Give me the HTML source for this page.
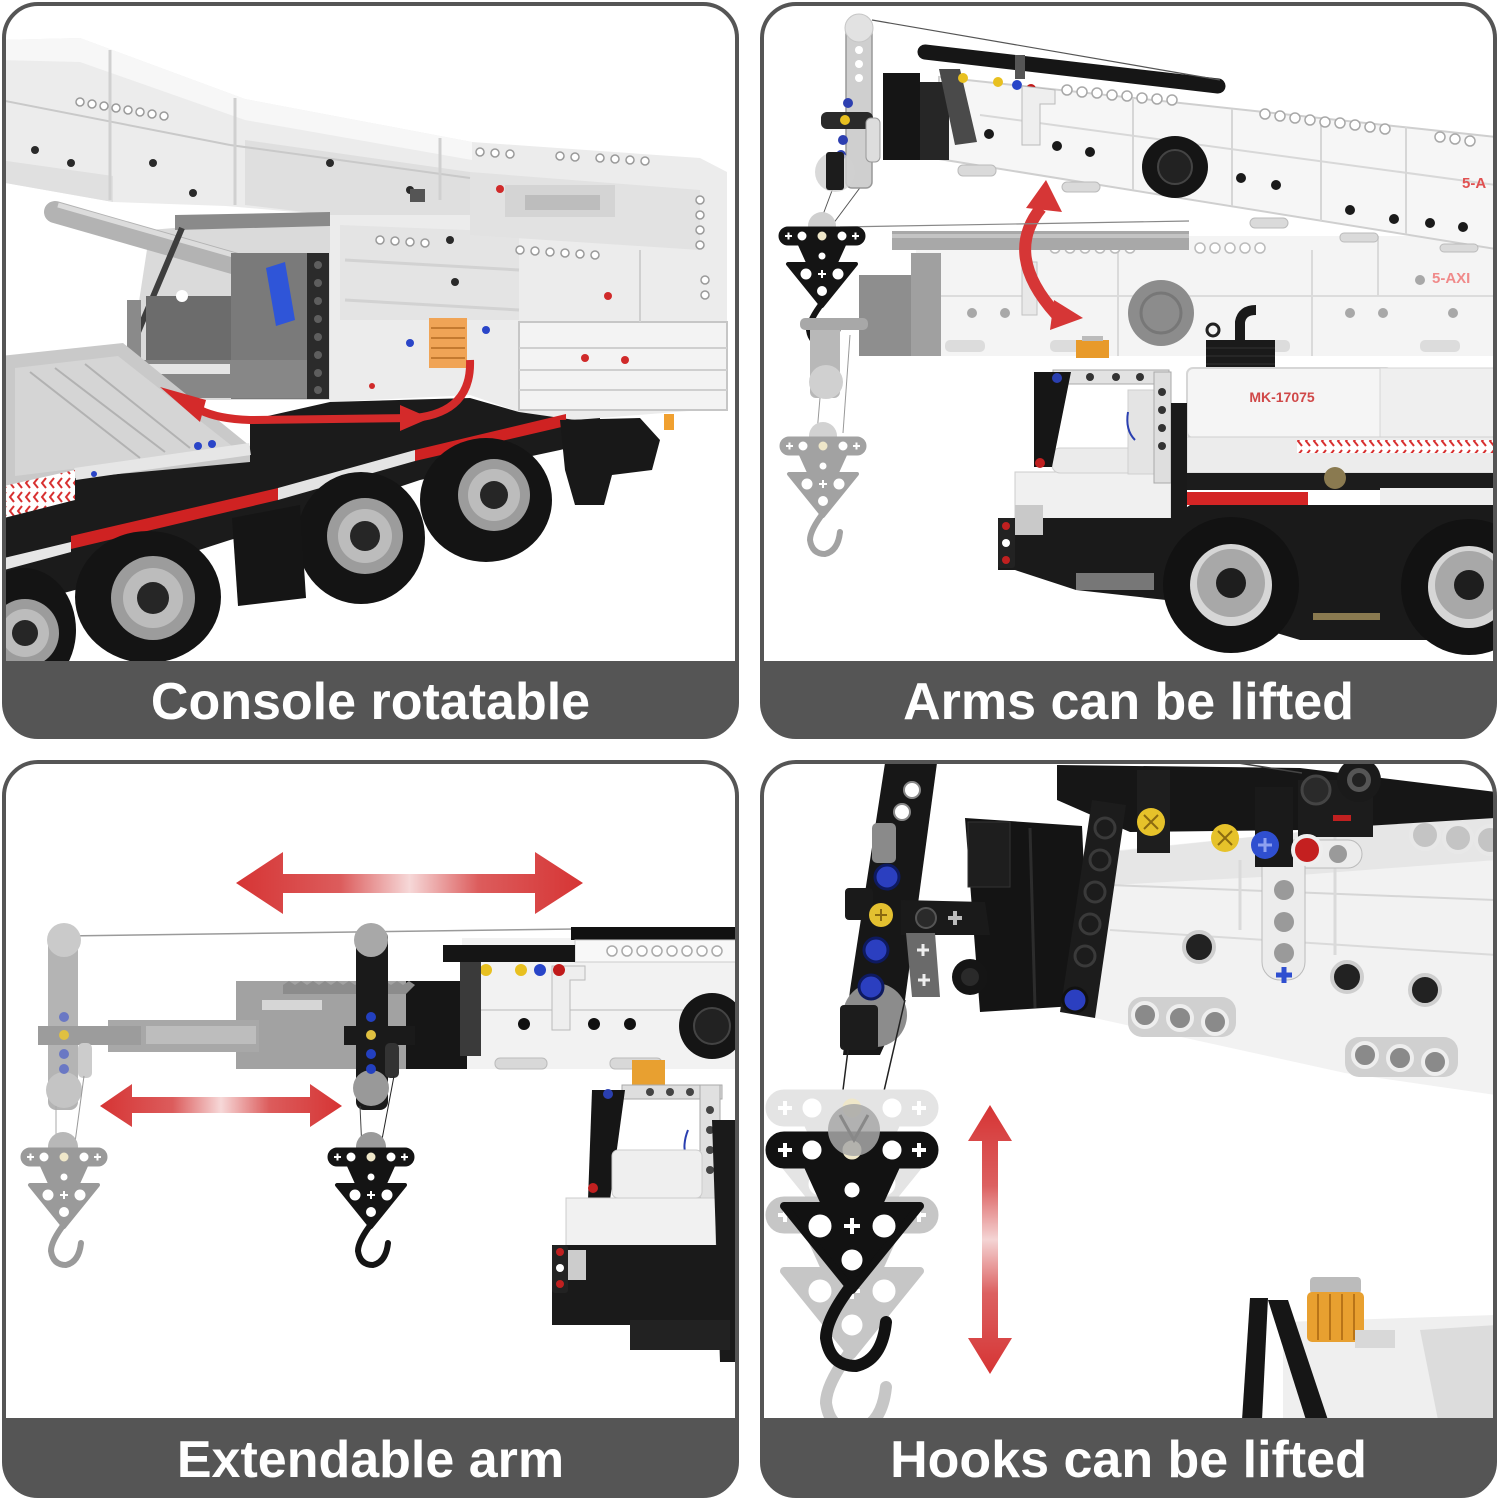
<!DOCTYPE html>
<html><head><meta charset="utf-8">
<style>html,body{margin:0;padding:0;background:#fff;}svg{display:block;}</style>
</head><body>
<svg width="1500" height="1500" viewBox="0 0 1500 1500" xmlns="http://www.w3.org/2000/svg">
<defs>
<clipPath id="c1"><rect x="4" y="4" width="733" height="733" rx="34"/></clipPath>
<clipPath id="c2"><rect x="762" y="4" width="733" height="733" rx="34"/></clipPath>
<clipPath id="c3"><rect x="4" y="762" width="733" height="734" rx="34"/></clipPath>
<clipPath id="c4"><rect x="762" y="762" width="733" height="734" rx="34"/></clipPath>
<pattern id="chev" width="8" height="14" patternUnits="userSpaceOnUse"><rect width="8" height="14" fill="#fff"/><path d="M6 2 L2 7 L6 12" stroke="#d83030" stroke-width="2" fill="none"/></pattern>
<linearGradient id="gH1" gradientUnits="userSpaceOnUse" x1="236" y1="0" x2="583" y2="0"><stop offset="0" stop-color="#d63434"/><stop offset="0.3" stop-color="#dc5c5c"/><stop offset="0.5" stop-color="#f6d8d8"/><stop offset="0.7" stop-color="#dc5c5c"/><stop offset="1" stop-color="#d63434"/></linearGradient>
<linearGradient id="gH2" gradientUnits="userSpaceOnUse" x1="100" y1="0" x2="342" y2="0"><stop offset="0" stop-color="#d63434"/><stop offset="0.3" stop-color="#dc5c5c"/><stop offset="0.5" stop-color="#f6d8d8"/><stop offset="0.7" stop-color="#dc5c5c"/><stop offset="1" stop-color="#d63434"/></linearGradient>
<linearGradient id="gV" gradientUnits="userSpaceOnUse" x1="0" y1="1105" x2="0" y2="1374"><stop offset="0" stop-color="#d63434"/><stop offset="0.3" stop-color="#dc6060"/><stop offset="0.5" stop-color="#f4d4d4"/><stop offset="0.7" stop-color="#dc6060"/><stop offset="1" stop-color="#d63434"/></linearGradient>
<g id="hk">
 <rect x="-43" y="-9" width="86" height="18" rx="9"/>
 <polygon points="-24,8 24,8 14,30 -14,30"/>
 <polygon points="-34,28 34,28 0,70" stroke-linejoin="round" stroke-width="4"/>
 <path d="M1 66 Q-13 84 -13 94 Q-11 108 2 108 Q15 105 17 86" fill="none" stroke-width="6" stroke-linecap="round"/>
 <circle cx="-20" cy="0" r="5" fill="#fff"/>
 <circle cx="20" cy="0" r="5" fill="#fff"/>
 <circle cx="0" cy="0" r="5" fill="#efe7c9"/>
 <path d="M-37 0h7M-33.5 -3.5v7M30 0h7M33.5 -3.5v7" stroke="#fff" stroke-width="2" fill="none"/>
 <circle cx="-16" cy="38" r="6" fill="#fff"/>
 <circle cx="16" cy="38" r="6" fill="#fff"/>
 <circle cx="0" cy="55" r="5.5" fill="#fff"/>
 <path d="M-4 38h8M0 34v8" stroke="#fff" stroke-width="2" fill="none"/>
 <circle cx="0" cy="20" r="4" fill="#fff"/>
</g>
</defs>
<rect width="1500" height="1500" fill="#fff"/>

<!-- ================= PANEL 1 ================= -->
<g clip-path="url(#c1)">
<rect x="0" y="0" width="740" height="740" fill="#fff"/>
<polygon points="0,40 80,38 245,99 472,142 700,158 727,172 727,408 575,420 519,412 470,395 330,402 330,215 226,206 113,202 0,182" fill="#ececec"/>
<polygon points="0,40 80,38 245,99 472,142 472,160 245,120 80,62 0,60" fill="#f7f7f7"/>
<polygon points="245,140 470,172 470,215 330,215 245,205" fill="#dfdfdf"/>
<polygon points="0,160 113,176 113,202 0,182" fill="#e0e0e0"/>
<polygon points="340,225 519,232 519,320 340,320" fill="#e4e4e4"/>
<polygon points="470,172 700,190 700,250 470,235" fill="#e2e2e2"/>
<line x1="0" y1="100" x2="230" y2="145" stroke="#c9c9c9" stroke-width="2"/>
<line x1="230" y1="145" x2="470" y2="178" stroke="#c9c9c9" stroke-width="2"/>
<line x1="110" y1="50" x2="110" y2="200" stroke="#d0d0d0" stroke-width="3"/>
<line x1="235" y1="98" x2="235" y2="205" stroke="#d0d0d0" stroke-width="3"/>
<line x1="440" y1="138" x2="440" y2="200" stroke="#d0d0d0" stroke-width="3"/>
<g fill="#fff" stroke="#9a9a9a" stroke-width="1.5">
<circle cx="80" cy="102" r="4"/><circle cx="92" cy="104" r="4"/><circle cx="104" cy="106" r="4"/><circle cx="116" cy="108" r="4"/><circle cx="128" cy="110" r="4"/><circle cx="140" cy="112" r="4"/><circle cx="152" cy="114" r="4"/><circle cx="164" cy="116" r="4"/>
<circle cx="480" cy="152" r="4"/><circle cx="495" cy="153" r="4"/><circle cx="510" cy="154" r="4"/><circle cx="560" cy="156" r="4"/><circle cx="575" cy="157" r="4"/><circle cx="600" cy="158" r="4"/><circle cx="615" cy="159" r="4"/><circle cx="630" cy="160" r="4"/><circle cx="645" cy="161" r="4"/>
<circle cx="520" cy="250" r="4"/><circle cx="535" cy="251" r="4"/><circle cx="550" cy="252" r="4"/><circle cx="565" cy="253" r="4"/><circle cx="580" cy="254" r="4"/><circle cx="595" cy="255" r="4"/>
<circle cx="380" cy="240" r="4"/><circle cx="395" cy="241" r="4"/><circle cx="410" cy="242" r="4"/><circle cx="425" cy="243" r="4"/>
<circle cx="700" cy="200" r="4"/><circle cx="700" cy="215" r="4"/><circle cx="700" cy="230" r="4"/><circle cx="700" cy="245" r="4"/><circle cx="705" cy="280" r="4"/><circle cx="705" cy="295" r="4"/>
</g>
<g fill="#2a2a2a">
<circle cx="35" cy="150" r="4"/><circle cx="71" cy="163" r="4"/><circle cx="153" cy="163" r="4"/><circle cx="193" cy="193" r="4"/><circle cx="330" cy="163" r="4"/><circle cx="410" cy="190" r="4"/><circle cx="455" cy="282" r="4"/><circle cx="590" cy="196" r="4"/><circle cx="450" cy="240" r="4"/>
</g>
<rect x="410" y="189" width="15" height="13" fill="#555"/>
<rect x="505" y="185" width="110" height="32" fill="#d4d4d4"/>
<rect x="525" y="195" width="75" height="15" fill="#bdbdbd"/>
<rect x="519" y="322" width="208" height="88" fill="#f3f3f3" stroke="#c6c6c6" stroke-width="2"/>
<line x1="519" y1="348" x2="727" y2="348" stroke="#cfcfcf" stroke-width="2"/>
<line x1="519" y1="370" x2="727" y2="370" stroke="#cfcfcf" stroke-width="2"/>
<line x1="519" y1="390" x2="727" y2="390" stroke="#cfcfcf" stroke-width="2"/>
<line x1="640" y1="250" x2="640" y2="322" stroke="#cfcfcf" stroke-width="2"/>
<line x1="345" y1="260" x2="519" y2="270" stroke="#d2d2d2" stroke-width="3"/>
<line x1="345" y1="300" x2="519" y2="310" stroke="#d2d2d2" stroke-width="3"/>
<g fill="#d02a2a"><circle cx="608" cy="296" r="4"/><circle cx="585" cy="358" r="4"/><circle cx="625" cy="360" r="4"/><circle cx="500" cy="189" r="4"/><circle cx="372" cy="386" r="3"/></g>
<g fill="#2a45c8"><circle cx="410" cy="343" r="4"/><circle cx="486" cy="330" r="4"/></g>
<polygon points="150,230 330,215 330,400 140,400 130,360" fill="#dadada"/>
<line x1="55" y1="212" x2="240" y2="265" stroke="#b3b3b3" stroke-width="22" stroke-linecap="round"/>
<line x1="58" y1="205" x2="240" y2="257" stroke="#dcdcdc" stroke-width="5"/>
<polygon points="175,215 330,212 330,226 175,230" fill="#8a8a8a"/>
<line x1="182" y1="228" x2="128" y2="356" stroke="#3e3e3e" stroke-width="6"/>
<rect x="127" y="300" width="14" height="60" fill="#8a8a8a"/>
<rect x="231" y="253" width="76" height="146" fill="#7a7a7a"/>
<rect x="307" y="253" width="22" height="146" fill="#2b2b2b"/>
<g fill="#5e5e5e"><circle cx="318" cy="265" r="4"/><circle cx="318" cy="283" r="4"/><circle cx="318" cy="301" r="4"/><circle cx="318" cy="319" r="4"/><circle cx="318" cy="337" r="4"/><circle cx="318" cy="355" r="4"/><circle cx="318" cy="373" r="4"/><circle cx="318" cy="390" r="4"/></g>
<rect x="146" y="296" width="85" height="73" fill="#6c6c6c"/>
<rect x="132" y="360" width="175" height="38" fill="#878787"/>
<rect x="140" y="364" width="90" height="10" fill="#e4e4e4"/>
<polygon points="266,268 285,262 295,320 276,326" fill="#2f55d8"/>
<circle cx="182" cy="296" r="6" fill="#fff"/>
<rect x="429" y="318" width="38" height="50" fill="#f0a456"/>
<g stroke="#c47a30" stroke-width="2"><line x1="431" y1="328" x2="465" y2="328"/><line x1="431" y1="338" x2="465" y2="338"/><line x1="431" y1="348" x2="465" y2="348"/><line x1="431" y1="358" x2="465" y2="358"/></g>
<polygon points="0,495 75,478 250,449 250,420 330,402 470,398 519,412 575,420 600,418 600,440 560,450 420,480 300,520 230,540 75,590 0,610" fill="#1b1b1b"/>
<polygon points="0,356 123,343 250,446 250,462 75,478 0,495" fill="#c9c9c9"/>
<polygon points="15,368 118,356 232,446 80,468 15,476" fill="#d5d5d5"/>
<g stroke="#b2b2b2" stroke-width="2"><line x1="30" y1="372" x2="140" y2="458"/><line x1="55" y1="368" x2="165" y2="452"/><line x1="85" y1="364" x2="190" y2="448"/></g>
<line x1="75" y1="474" x2="250" y2="449" stroke="#e6e6e6" stroke-width="12"/>
<g fill="#2a45c8"><circle cx="198" cy="446" r="4"/><circle cx="212" cy="444" r="4"/><circle cx="94" cy="474" r="3"/></g>
<polygon points="4,486 75,470 75,500 4,518" fill="url(#chev)"/>
<polygon points="71,536 278,488 278,500 71,549" fill="#cf2222"/>
<polygon points="278,488 415,450 415,461 278,500" fill="#e4e4e4"/>
<polygon points="415,450 566,414 566,426 415,461" fill="#cf2222"/>
<polygon points="4,558 71,542 71,552 4,570" fill="#e6e6e6"/>
<ellipse cx="486" cy="500" rx="66" ry="62" fill="#141414"/>
<circle cx="494" cy="495" r="36" fill="#9c9c9c"/><circle cx="494" cy="495" r="26" fill="#bcbcbc"/><circle cx="494" cy="495" r="14" fill="#262626"/>
<ellipse cx="361" cy="538" rx="64" ry="66" fill="#141414"/>
<circle cx="365" cy="536" r="38" fill="#9c9c9c"/><circle cx="365" cy="536" r="27" fill="#bcbcbc"/><circle cx="365" cy="536" r="15" fill="#262626"/>
<polygon points="232,518 300,505 306,598 238,606" fill="#151515"/>
<polygon points="560,420 640,418 660,440 652,470 612,475 604,505 575,505 565,470" fill="#181818"/>
<rect x="664" y="414" width="10" height="16" fill="#f0a030"/>
<ellipse cx="148" cy="597" rx="73" ry="66" fill="#141414"/>
<circle cx="153" cy="598" r="42" fill="#9c9c9c"/><circle cx="153" cy="598" r="30" fill="#bcbcbc"/><circle cx="153" cy="598" r="16" fill="#262626"/>
<ellipse cx="24" cy="630" rx="52" ry="62" fill="#141414"/>
<circle cx="25" cy="633" r="34" fill="#9c9c9c"/><circle cx="25" cy="633" r="24" fill="#bcbcbc"/><circle cx="25" cy="633" r="13" fill="#262626"/>
<path d="M470 360 Q472 412 415 418 L250 420 Q218 419 200 410" fill="none" stroke="#d42a2a" stroke-width="8"/>
<polygon points="400,405 430,418 400,431" fill="#d42a2a"/>
<polygon points="160,387 206,400 200,422" fill="#d42a2a"/>
<rect x="0" y="661" width="740" height="80" fill="#555"/>
</g>
<rect x="4" y="4" width="733" height="733" rx="34" fill="none" stroke="#555" stroke-width="4"/>
<text x="370.5" y="719" text-anchor="middle" font-family="Liberation Sans, Arial, sans-serif" font-weight="bold" font-size="52" fill="#fff">Console rotatable</text>

<!-- ================= PANEL 2 ================= -->
<g clip-path="url(#c2)">
<rect x="762" y="0" width="740" height="740" fill="#fff"/>
<polygon points="916,236 1496,236 1496,356 916,356" fill="#f4f4f4"/>
<line x1="916" y1="296" x2="1496" y2="296" stroke="#dcdcdc" stroke-width="2"/>
<g stroke="#dadada" stroke-width="2"><line x1="1118" y1="250" x2="1118" y2="356"/><line x1="1312" y1="250" x2="1312" y2="356"/><line x1="1378" y1="236" x2="1378" y2="296"/></g>
<g fill="#fff" stroke="#bbb" stroke-width="1.5"><circle cx="1055" cy="248" r="5"/><circle cx="1070" cy="248" r="5"/><circle cx="1085" cy="248" r="5"/><circle cx="1100" cy="248" r="5"/><circle cx="1115" cy="248" r="5"/><circle cx="1130" cy="248" r="5"/><circle cx="1200" cy="248" r="5"/><circle cx="1215" cy="248" r="5"/><circle cx="1230" cy="248" r="5"/><circle cx="1245" cy="248" r="5"/><circle cx="1260" cy="248" r="5"/></g>
<g fill="#a8a8a8"><circle cx="972" cy="313" r="5"/><circle cx="1005" cy="313" r="5"/><circle cx="1350" cy="313" r="5"/><circle cx="1383" cy="313" r="5"/><circle cx="1453" cy="313" r="5"/><circle cx="1420" cy="280" r="5"/></g>
<g fill="#dcdcdc"><rect x="945" y="340" width="40" height="12" rx="5"/><rect x="1050" y="340" width="40" height="12" rx="5"/><rect x="1250" y="340" width="40" height="12" rx="5"/><rect x="1420" y="340" width="40" height="12" rx="5"/></g>
<rect x="892" y="231" width="297" height="19" fill="#a8a8a8"/>
<rect x="892" y="234" width="297" height="4" fill="#c4c4c4"/>
<rect x="859" y="275" width="57" height="81" fill="#8e8e8e"/>
<rect x="911" y="253" width="30" height="103" fill="#a0a0a0"/>
<circle cx="1161" cy="313" r="33" fill="#8c8c8c"/><circle cx="1161" cy="313" r="20" fill="#8c8c8c" stroke="#777" stroke-width="3"/>
<polygon points="1022,262 1037,262 1037,315 1022,315" fill="#e8e8e8" stroke="#c2c2c2"/>
<text x="1432" y="283" font-family="Liberation Sans, Arial, sans-serif" font-weight="bold" font-size="15" fill="#f08a8a">5-AXI</text>
<polygon points="939,77 1496,137 1496,249 939,159" fill="#f6f6f6" stroke="#cfcfcf" stroke-width="2"/>
<line x1="980" y1="115" x2="1496" y2="185" stroke="#d8d8d8" stroke-width="2"/>
<g stroke="#d6d6d6" stroke-width="2"><line x1="1133" y1="98" x2="1133" y2="190"/><line x1="1232" y1="109" x2="1232" y2="206"/><line x1="1321" y1="118" x2="1321" y2="221"/><line x1="1406" y1="127" x2="1406" y2="234"/></g>
<g fill="#fff" stroke="#a8a8a8" stroke-width="1.5"><circle cx="1067" cy="90" r="5"/><circle cx="1082" cy="92" r="5"/><circle cx="1097" cy="93" r="5"/><circle cx="1112" cy="95" r="5"/><circle cx="1127" cy="96" r="5"/><circle cx="1142" cy="98" r="5"/><circle cx="1157" cy="99" r="5"/><circle cx="1172" cy="100" r="5"/><circle cx="1265" cy="114" r="5"/><circle cx="1280" cy="116" r="5"/><circle cx="1295" cy="118" r="5"/><circle cx="1310" cy="120" r="5"/><circle cx="1325" cy="122" r="5"/><circle cx="1340" cy="123" r="5"/><circle cx="1355" cy="125" r="5"/><circle cx="1370" cy="127" r="5"/><circle cx="1385" cy="129" r="5"/><circle cx="1440" cy="137" r="5"/><circle cx="1455" cy="139" r="5"/><circle cx="1470" cy="141" r="5"/></g>
<g fill="#1a1a1a"><circle cx="989" cy="134" r="5"/><circle cx="1057" cy="146" r="5"/><circle cx="1090" cy="152" r="5"/><circle cx="1241" cy="178" r="5"/><circle cx="1276" cy="185" r="5"/><circle cx="1350" cy="210" r="5"/><circle cx="1394" cy="219" r="5"/><circle cx="1430" cy="223" r="5"/><circle cx="1463" cy="227" r="5"/></g>
<g fill="#dadada" stroke="#bbb"><rect x="958" y="165" width="38" height="11" rx="5"/><rect x="1062" y="182" width="38" height="10" rx="5"/><rect x="1250" y="218" width="38" height="10" rx="5"/><rect x="1340" y="233" width="38" height="9" rx="4"/><rect x="1440" y="244" width="38" height="8" rx="4"/></g>
<text x="1462" y="188" font-family="Liberation Sans, Arial, sans-serif" font-weight="bold" font-size="15" fill="#e05050">5-A</text>
<line x1="925" y1="52" x2="1218" y2="86" stroke="#161616" stroke-width="15" stroke-linecap="round"/>
<rect x="1015" y="55" width="10" height="24" fill="#555"/>
<polygon points="883,73 920,73 920,160 883,160" fill="#151515"/>
<polygon points="920,82 949,82 949,160 920,160" fill="#262626"/>
<polygon points="939,69 960,69 977,142 955,145" fill="#4a4a4a"/>
<circle cx="963" cy="78" r="5" fill="#e8c020"/><circle cx="998" cy="82" r="5" fill="#e8c020"/><circle cx="1017" cy="85" r="5" fill="#2845c8"/><circle cx="1031" cy="89" r="5" fill="#c01a1a"/>
<polygon points="1022,86 1055,90 1055,104 1040,104 1040,145 1022,145" fill="#eee" stroke="#bbb"/>
<ellipse cx="1175" cy="167" rx="33" ry="31" fill="#151515"/><circle cx="1175" cy="167" r="17" fill="#222" stroke="#444" stroke-width="2"/>
<path d="M1041 208 Q1003 255 1056 314" fill="none" stroke="#d63636" stroke-width="12"/>
<polygon points="1046,180 1062,212 1026,208" fill="#d63636"/>
<polygon points="1083,318 1054,300 1050,330" fill="#d63636"/>
<line x1="872" y1="20" x2="1220" y2="80" stroke="#555" stroke-width="1.2"/>
<line x1="840" y1="227" x2="1189" y2="221" stroke="#888" stroke-width="1.2"/>
<line x1="833" y1="188" x2="818" y2="228" stroke="#555"/><line x1="862" y1="185" x2="830" y2="228" stroke="#555"/>
<line x1="821" y1="386" x2="817" y2="433" stroke="#999"/><line x1="850" y1="335" x2="843" y2="433" stroke="#999"/>
<rect x="846" y="26" width="26" height="162" rx="6" fill="#cfcfcf" stroke="#999" stroke-width="1.5"/>
<circle cx="859" cy="28" r="14" fill="#e2e2e2" stroke="#c6c6c6"/>
<g fill="#fff"><circle cx="859" cy="50" r="4"/><circle cx="859" cy="64" r="4"/><circle cx="859" cy="78" r="4"/></g>
<rect x="821" y="112" width="52" height="17" rx="6" fill="#2a2a2a"/>
<rect x="866" y="118" width="14" height="44" rx="5" fill="#ddd" stroke="#999"/>
<circle cx="848" cy="103" r="5" fill="#2d3fb0"/><circle cx="845" cy="120" r="5" fill="#e8c020"/><circle cx="843" cy="140" r="5" fill="#2d3fb0"/><circle cx="841" cy="155" r="5" fill="#2d3fb0"/>
<circle cx="835" cy="172" r="20" fill="#d0d0d0" opacity="0.8"/>
<rect x="826" y="152" width="18" height="38" rx="3" fill="#1c1c1c"/>
<circle cx="822" cy="226" r="14" fill="#cfcfcf"/>
<use href="#hk" transform="translate(822,236)" fill="#141414" stroke="#141414" stroke-width="1"/>
<rect x="810" y="318" width="30" height="80" rx="6" fill="#b8b8b8"/>
<rect x="800" y="318" width="68" height="12" rx="5" fill="#a8a8a8"/>
<circle cx="826" cy="382" r="17" fill="#d0d0d0"/>
<circle cx="823" cy="436" r="14" fill="#d2d2d2"/>
<use href="#hk" transform="translate(823,446)" fill="#a2a2a2" stroke="#a2a2a2" stroke-width="1"/>
<rect x="1206" y="340" width="69" height="30" fill="#1a1a1a"/>
<g stroke="#333" stroke-width="1"><line x1="1206" y1="348" x2="1275" y2="348"/><line x1="1206" y1="356" x2="1275" y2="356"/><line x1="1206" y1="364" x2="1275" y2="364"/></g>
<path d="M1240 340 L1240 322 Q1242 310 1256 310" fill="none" stroke="#1a1a1a" stroke-width="10"/>
<circle cx="1213" cy="330" r="6" fill="none" stroke="#222" stroke-width="3"/>
<rect x="1076" y="340" width="33" height="18" fill="#e89a2a"/>
<rect x="1082" y="336" width="21" height="5" fill="#bbb"/>
<rect x="1187" y="368" width="205" height="70" rx="6" fill="#f5f5f5" stroke="#d6d6d6" stroke-width="2"/>
<rect x="1380" y="368" width="116" height="105" fill="#efefef" stroke="#d6d6d6"/>
<rect x="1187" y="437" width="309" height="36" fill="#ececec" stroke="#d0d0d0"/>
<rect x="1297" y="440" width="199" height="13" fill="url(#chev)"/>
<text x="1282" y="402" text-anchor="middle" font-family="Liberation Sans, Arial, sans-serif" font-weight="bold" font-size="14" fill="#d04848">MK-17075</text>
<rect x="1015" y="472" width="156" height="51" fill="#f0f0f0" stroke="#cdcdcd"/>
<rect x="1052" y="448" width="90" height="25" rx="8" fill="#ebebeb" stroke="#d0d0d0"/>
<rect x="1128" y="390" width="26" height="84" fill="#e4e4e4" stroke="#cfcfcf"/>
<rect x="1053" y="370" width="116" height="14" fill="#e2e2e2" stroke="#aaa"/>
<g fill="#333"><circle cx="1090" cy="377" r="4"/><circle cx="1116" cy="377" r="4"/><circle cx="1140" cy="377" r="4"/></g>
<rect x="1154" y="372" width="17" height="111" fill="#dedede" stroke="#aaa"/>
<g fill="#333"><circle cx="1162" cy="392" r="4"/><circle cx="1162" cy="410" r="4"/><circle cx="1162" cy="428" r="4"/><circle cx="1162" cy="446" r="4"/></g>
<polygon points="1034,372 1071,372 1052,467 1034,467" fill="#161616"/>
<circle cx="1057" cy="378" r="5" fill="#2a3fb0"/><circle cx="1040" cy="463" r="5" fill="#c02020"/>
<path d="M1128 412 Q1125 430 1135 440" fill="none" stroke="#2a3fb0" stroke-width="2"/>
<rect x="1171" y="403" width="16" height="124" fill="#1a1a1a"/>
<rect x="1187" y="473" width="309" height="17" fill="#1c1c1c"/>
<polygon points="998,518 1171,518 1190,505 1496,505 1496,640 1300,640 1166,600 1076,590 1015,570 998,570" fill="#1a1a1a"/>
<rect x="1187" y="492" width="121" height="13" fill="#d42525"/>
<rect x="1380" y="488" width="116" height="17" fill="#eeeeee"/>
<rect x="1076" y="573" width="78" height="17" fill="#777"/>
<rect x="1015" y="505" width="28" height="30" fill="#c9c9c9"/>
<rect x="998" y="518" width="17" height="50" rx="3" fill="#222"/>
<circle cx="1006" cy="526" r="4" fill="#c02020"/><circle cx="1006" cy="543" r="4" fill="#fff"/><circle cx="1006" cy="560" r="4" fill="#c02020"/>
<circle cx="1335" cy="478" r="11" fill="#8a7a50"/>
<rect x="1313" y="613" width="67" height="7" fill="#8a7a50"/>
<circle cx="1231" cy="585" r="68" fill="#121212"/>
<circle cx="1231" cy="585" r="41" fill="#d6d6d6"/>
<circle cx="1231" cy="583" r="34" fill="#a8a8a8"/><circle cx="1231" cy="583" r="15" fill="#1e1e1e"/>
<circle cx="1469" cy="587" r="68" fill="#121212"/>
<circle cx="1469" cy="587" r="41" fill="#d6d6d6"/>
<circle cx="1469" cy="585" r="34" fill="#a8a8a8"/><circle cx="1469" cy="585" r="15" fill="#1e1e1e"/>
<rect x="762" y="661" width="740" height="80" fill="#555"/>
</g>
<rect x="762" y="4" width="733" height="733" rx="34" fill="none" stroke="#555" stroke-width="4"/>
<text x="1128.5" y="719" text-anchor="middle" font-family="Liberation Sans, Arial, sans-serif" font-weight="bold" font-size="52" fill="#fff">Arms can be lifted</text>

<!-- ================= PANEL 3 ================= -->
<g clip-path="url(#c3)">
<rect x="0" y="760" width="740" height="740" fill="#fff"/>
<polygon points="236,883 283,852 283,874 535,874 535,852 583,883 535,914 535,893 283,893 283,914" fill="url(#gH1)"/>
<polygon points="100,1106 132,1084 132,1097 310,1097 310,1084 342,1106 310,1127 310,1113 132,1113 132,1127" fill="url(#gH2)"/>
<line x1="64" y1="936" x2="575" y2="929" stroke="#9a9a9a" stroke-width="1.5"/>
<rect x="462" y="938" width="275" height="131" fill="#f2f2f2"/>
<rect x="571" y="927" width="166" height="13" fill="#111"/>
<rect x="575" y="940" width="162" height="22" fill="#f8f8f8" stroke="#ccc"/>
<g fill="#fff" stroke="#aaa" stroke-width="1.5"><circle cx="612" cy="951" r="5"/><circle cx="627" cy="951" r="5"/><circle cx="642" cy="951" r="5"/><circle cx="657" cy="951" r="5"/><circle cx="672" cy="951" r="5"/><circle cx="687" cy="951" r="5"/><circle cx="702" cy="951" r="5"/><circle cx="717" cy="951" r="5"/></g>
<rect x="443" y="945" width="132" height="17" fill="#151515"/>
<line x1="480" y1="1010" x2="737" y2="1010" stroke="#d6d6d6" stroke-width="2"/>
<g fill="#111"><circle cx="524" cy="1024" r="6"/><circle cx="594" cy="1024" r="6"/><circle cx="630" cy="1024" r="6"/></g>
<g fill="#d8d8d8" stroke="#bbb"><rect x="495" y="1058" width="52" height="11" rx="5"/><rect x="610" y="1058" width="52" height="11" rx="5"/></g>
<polygon points="552,966 585,966 585,980 570,980 570,1030 552,1030" fill="#eee" stroke="#bbb"/>
<circle cx="486" cy="970" r="6" fill="#e8c020"/><circle cx="521" cy="970" r="6" fill="#e8c020"/><circle cx="540" cy="970" r="6" fill="#2845c8"/><circle cx="559" cy="970" r="6" fill="#c01a1a"/>
<circle cx="712" cy="1026" r="33" fill="#151515"/><circle cx="712" cy="1026" r="18" fill="#222" stroke="#444" stroke-width="2"/>
<rect x="406" y="981" width="61" height="88" fill="#161616"/>
<polygon points="460,962 481,962 481,1056 460,1056" fill="#3a3a3a"/>
<rect x="236" y="981" width="170" height="88" fill="#a2a2a2"/>
<path d="M283 994 L283 985 l6 -4 l6 4 l6 -4 l6 4 l6 -4 l6 4 l6 -4 l6 4 l6 -4 l6 4 l6 -4 l6 4 l6 -4 l6 4 l6 -4 l6 4 l6 -4 l6 4 l6 -4 l6 4 l6 -4 l6 4 L406 994 Z" fill="#8c8c8c"/>
<rect x="262" y="1000" width="60" height="10" fill="#d6d6d6"/>
<rect x="108" y="1020" width="151" height="32" fill="#a8a8a8"/>
<rect x="146" y="1026" width="110" height="18" fill="#bdbdbd"/>
<rect x="48" y="930" width="30" height="180" rx="8" fill="#b4b4b4"/>
<circle cx="64" cy="940" r="17" fill="#cacaca"/>
<circle cx="64" cy="1090" r="18" fill="#c4c4c4"/>
<rect x="38" y="1026" width="103" height="19" fill="#9c9c9c"/>
<rect x="78" y="1043" width="14" height="35" rx="5" fill="#ccc"/>
<circle cx="64" cy="1017" r="5" fill="#6a78c4"/><circle cx="64" cy="1035" r="5" fill="#e0c040"/><circle cx="64" cy="1054" r="5" fill="#6a78c4"/><circle cx="64" cy="1069" r="5" fill="#6a78c4"/>
<rect x="356" y="930" width="32" height="180" rx="8" fill="#1a1a1a"/>
<circle cx="371" cy="940" r="17" fill="#a8a8a8"/>
<circle cx="371" cy="1088" r="18" fill="#999"/>
<rect x="344" y="1026" width="71" height="19" fill="#1a1a1a"/>
<rect x="385" y="1043" width="14" height="35" rx="5" fill="#333"/>
<circle cx="371" cy="1017" r="5" fill="#2340c0"/><circle cx="371" cy="1035" r="5" fill="#e0c040"/><circle cx="371" cy="1054" r="5" fill="#2340c0"/><circle cx="371" cy="1069" r="5" fill="#2340c0"/>
<line x1="56" y1="1106" x2="56" y2="1150" stroke="#aaa"/><line x1="84" y1="1076" x2="74" y2="1150" stroke="#999"/>
<line x1="360" y1="1106" x2="362" y2="1150" stroke="#444"/><line x1="394" y1="1076" x2="380" y2="1150" stroke="#222"/>
<circle cx="63" cy="1147" r="15" fill="#b8b8b8"/>
<use href="#hk" transform="translate(64,1157)" fill="#9a9a9a" stroke="#9a9a9a" stroke-width="1"/>
<circle cx="371" cy="1147" r="15" fill="#9a9a9a"/>
<use href="#hk" transform="translate(371,1157)" fill="#141414" stroke="#141414" stroke-width="1"/>
<rect x="632" y="1060" width="33" height="25" fill="#e8a030"/>
<rect x="622" y="1085" width="100" height="14" fill="#dedede" stroke="#aaa"/>
<g fill="#444"><circle cx="650" cy="1092" r="4"/><circle cx="670" cy="1092" r="4"/><circle cx="690" cy="1092" r="4"/></g>
<rect x="700" y="1085" width="20" height="115" fill="#e0e0e0" stroke="#aaa"/>
<g fill="#444"><circle cx="710" cy="1110" r="4"/><circle cx="710" cy="1130" r="4"/><circle cx="710" cy="1150" r="4"/><circle cx="710" cy="1170" r="4"/></g>
<polygon points="592,1090 625,1090 610,1200 588,1200" fill="#161616"/>
<circle cx="608" cy="1094" r="5" fill="#2a3fb0"/><circle cx="593" cy="1188" r="5" fill="#c02020"/>
<path d="M688 1130 Q680 1150 690 1165" fill="none" stroke="#2a3fb0" stroke-width="2"/>
<rect x="612" y="1150" width="90" height="48" rx="6" fill="#efefef" stroke="#ccc"/>
<rect x="566" y="1198" width="150" height="60" fill="#f1f1f1" stroke="#ccc"/>
<rect x="552" y="1245" width="184" height="80" fill="#1a1a1a"/>
<rect x="566" y="1250" width="20" height="30" fill="#ccc"/>
<rect x="552" y="1245" width="16" height="48" rx="3" fill="#222"/>
<circle cx="560" cy="1252" r="4" fill="#c02020"/><circle cx="560" cy="1268" r="4" fill="#fff"/><circle cx="560" cy="1284" r="4" fill="#c02020"/>
<polygon points="712,1120 737,1120 737,1362 720,1362" fill="#1a1a1a"/>
<rect x="630" y="1320" width="100" height="30" fill="#222"/>
<rect x="0" y="1418" width="740" height="82" fill="#555"/>
</g>
<rect x="4" y="762" width="733" height="734" rx="34" fill="none" stroke="#555" stroke-width="4"/>
<text x="370.5" y="1477" text-anchor="middle" font-family="Liberation Sans, Arial, sans-serif" font-weight="bold" font-size="52" fill="#fff">Extendable arm</text>

<!-- ================= PANEL 4 ================= -->
<g clip-path="url(#c4)">
<rect x="762" y="760" width="740" height="740" fill="#fff"/>
<polygon points="1100,852 1300,832 1496,815 1496,1095 1345,1073 1090,1017" fill="#f2f2f2"/>
<polygon points="1110,852 1300,832 1496,815 1496,860 1300,875 1110,885" fill="#e6e6e6"/>
<line x1="1110" y1="885" x2="1496" y2="900" stroke="#d6d6d6" stroke-width="2"/>
<line x1="1110" y1="930" x2="1496" y2="955" stroke="#dadada" stroke-width="2"/>
<line x1="1335" y1="830" x2="1335" y2="955" stroke="#dadada" stroke-width="3"/>
<line x1="1240" y1="860" x2="1240" y2="930" stroke="#dadada" stroke-width="3"/>
<g fill="#222" stroke="#cfcfcf" stroke-width="4"><circle cx="1199" cy="947" r="15"/><circle cx="1347" cy="977" r="15"/><circle cx="1425" cy="990" r="15"/></g>
<g fill="#c4c4c4" stroke="#e8e8e8" stroke-width="4"><circle cx="1425" cy="835" r="14"/><circle cx="1458" cy="838" r="14"/><circle cx="1490" cy="840" r="14"/></g>
<rect x="1128" y="997" width="108" height="40" rx="14" fill="#d0d0d0"/>
<g fill="#8a8a8a" stroke="#eee" stroke-width="4"><circle cx="1145" cy="1015" r="12"/><circle cx="1180" cy="1018" r="12"/><circle cx="1215" cy="1022" r="12"/></g>
<rect x="1345" y="1037" width="113" height="40" rx="14" fill="#d0d0d0"/>
<g fill="#8a8a8a" stroke="#eee" stroke-width="4"><circle cx="1365" cy="1055" r="12"/><circle cx="1400" cy="1058" r="12"/><circle cx="1435" cy="1062" r="12"/></g>
<rect x="1262" y="840" width="100" height="28" rx="14" fill="#ececec" stroke="#bbb"/>
<rect x="1262" y="840" width="43" height="140" rx="18" fill="#ececec" stroke="#bbb"/>
<g fill="#9a9a9a"><circle cx="1284" cy="890" r="10"/><circle cx="1284" cy="922" r="10"/><circle cx="1284" cy="953" r="10"/><circle cx="1338" cy="854" r="9"/></g>
<path d="M1276 975h16M1284 967v16" stroke="#2f4fd0" stroke-width="5"/>
<polygon points="1057,765 1300,768 1496,792 1496,818 1300,830 1130,832 1057,800" fill="#161616"/>
<line x1="1232" y1="762" x2="1302" y2="773" stroke="#444" stroke-width="1.5"/>
<polygon points="1255,787 1293,787 1293,867 1255,867" fill="#1a1a1a"/>
<polygon points="1298,780 1373,780 1373,837 1298,837" fill="#1c1c1c"/>
<circle cx="1359" cy="780" r="22" fill="#1a1a1a"/><circle cx="1359" cy="780" r="12" fill="#555"/><circle cx="1359" cy="780" r="7" fill="#222"/>
<circle cx="1316" cy="790" r="14" fill="#2a2a2a" stroke="#444" stroke-width="3"/>
<rect x="1333" y="815" width="18" height="6" fill="#c02020"/>
<polygon points="1137,770 1170,770 1170,853 1137,853" fill="#1e1e1e"/>
<circle cx="1151" cy="822" r="14" fill="#e6c22a"/><path d="M1144 815l14 14M1158 815l-14 14" stroke="#8a6a10" stroke-width="2"/>
<circle cx="1225" cy="838" r="14" fill="#e6c22a"/><path d="M1218 831l14 14M1232 831l-14 14" stroke="#8a6a10" stroke-width="2"/>
<circle cx="1265" cy="845" r="14" fill="#2f4fd0"/><path d="M1258 845h14M1265 838v14" stroke="#8ea0f0" stroke-width="3"/>
<circle cx="1307" cy="850" r="14" fill="#c42020" stroke="#eee" stroke-width="4"/>
<polygon points="965,818 1082,826 1090,1005 980,1012" fill="#141414"/>
<rect x="968" y="822" width="42" height="65" fill="#1e1e1e" stroke="#333"/>
<line x1="1030" y1="828" x2="1035" y2="1008" stroke="#2c2c2c" stroke-width="3"/>
<polygon points="1092,800 1126,805 1095,1018 1060,1012" fill="#1c1c1c"/>
<g fill="#1c1c1c" stroke="#3a3a3a" stroke-width="3"><circle cx="1105" cy="828" r="10"/><circle cx="1100" cy="860" r="10"/><circle cx="1095" cy="892" r="10"/><circle cx="1090" cy="924" r="10"/><circle cx="1085" cy="956" r="10"/></g>
<circle cx="1075" cy="1000" r="12" fill="#2b3fc0" stroke="#111" stroke-width="3"/>
<polygon points="885,763 937,763 905,1000 880,1055 843,1055 850,990" fill="#171717"/>
<g fill="#fff" stroke="#888" stroke-width="2"><circle cx="912" cy="790" r="8"/><circle cx="902" cy="812" r="8"/></g>
<rect x="872" y="823" width="24" height="40" rx="5" fill="#8a8a8a"/>
<rect x="845" y="888" width="28" height="32" rx="4" fill="#1a1a1a"/>
<polygon points="901,900 985,902 990,935 901,935" fill="#1a1a1a"/>
<circle cx="926" cy="918" r="10" fill="#2a2a2a" stroke="#555" stroke-width="2"/>
<path d="M948 918h14M955 911v14" stroke="#bbb" stroke-width="4"/>
<polygon points="906,933 935,933 940,997 912,997" fill="#6a6a6a"/>
<path d="M917 950h12M923 944v12M918 980h12M924 974v12" stroke="#eee" stroke-width="3"/>
<circle cx="875" cy="1015" r="32" fill="#8c8c8c"/>
<rect x="840" y="1005" width="38" height="45" rx="4" fill="#1c1c1c"/>
<g fill="#2b3fc0" stroke="#0e1a60" stroke-width="3"><circle cx="887" cy="877" r="12"/><circle cx="876" cy="950" r="12"/><circle cx="871" cy="987" r="12"/></g>
<circle cx="881" cy="915" r="12" fill="#e3c030"/><path d="M875 915h12M881 909v12" stroke="#8a6a10" stroke-width="2"/>
<circle cx="970" cy="977" r="18" fill="#151515"/><circle cx="970" cy="977" r="9" fill="#2a2a2a"/>
<line x1="848" y1="1050" x2="838" y2="1130" stroke="#222" stroke-width="1.5"/>
<line x1="905" y1="1000" x2="875" y2="1130" stroke="#222" stroke-width="1.5"/>
<use href="#hk" transform="translate(852,1108) scale(2)" fill="#e4e4e4" stroke="#e4e4e4" stroke-width="0.5"/>
<use href="#hk" transform="translate(852,1215) scale(2)" fill="#c6c6c6" stroke="#c6c6c6" stroke-width="0.5"/>
<use href="#hk" transform="translate(852,1150) scale(2)" fill="#121212" stroke="#121212" stroke-width="0.5"/>
<circle cx="854" cy="1130" r="26" fill="#a8a8a8" opacity="0.85"/>
<path d="M840 1115 L854 1140 L868 1115" fill="none" stroke="#888" stroke-width="3"/>
<polygon points="990,1105 1012,1141 998,1141 998,1338 1012,1338 990,1374 968,1338 982,1338 982,1141 968,1141" fill="url(#gV)"/>
<polygon points="1283,1322 1496,1315 1496,1430 1283,1430" fill="#efefef"/>
<polygon points="1420,1330 1496,1325 1496,1430 1440,1430" fill="#dcdcdc"/>
<rect x="1310" y="1277" width="51" height="17" rx="4" fill="#bbb"/>
<rect x="1307" y="1292" width="57" height="50" rx="5" fill="#e8a030"/>
<g stroke="#b87418" stroke-width="2"><line x1="1318" y1="1294" x2="1318" y2="1340"/><line x1="1330" y1="1294" x2="1330" y2="1340"/><line x1="1342" y1="1294" x2="1342" y2="1340"/><line x1="1354" y1="1294" x2="1354" y2="1340"/></g>
<polygon points="1250,1298 1268,1298 1262,1420 1242,1420" fill="#161616"/>
<polygon points="1268,1300 1288,1300 1328,1420 1306,1420" fill="#161616"/>
<rect x="1355" y="1330" width="40" height="18" fill="#d8d8d8"/>
<rect x="0" y="1418" width="1500" height="82" fill="#555"/>
</g>
<rect x="762" y="762" width="733" height="734" rx="34" fill="none" stroke="#555" stroke-width="4"/>
<text x="1128.5" y="1477" text-anchor="middle" font-family="Liberation Sans, Arial, sans-serif" font-weight="bold" font-size="52" fill="#fff">Hooks can be lifted</text>
</svg>
</body></html>
